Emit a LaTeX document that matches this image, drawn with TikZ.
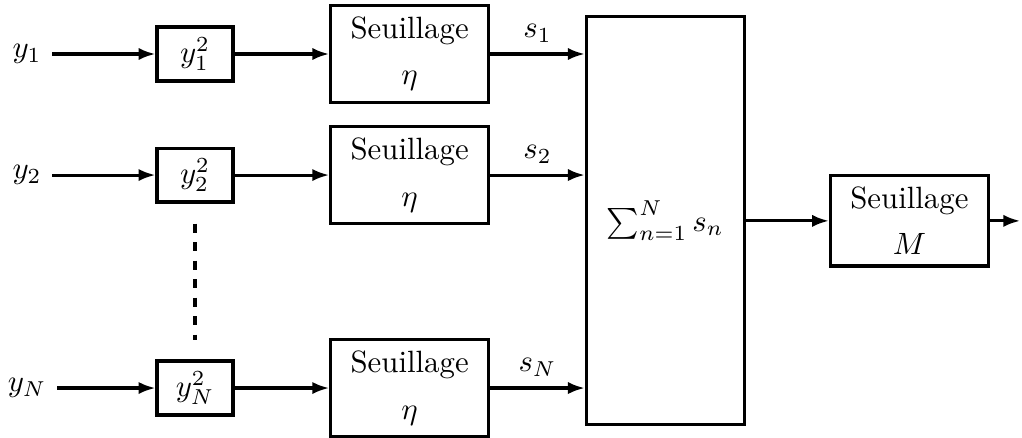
\documentclass[tikz,border=0pt]{standalone}
\usepackage{amsmath,amssymb}
\usepackage{tikz}
\usetikzlibrary{
    arrows.meta,
    calc,
    positioning
}
\tikzstyle{arrow}=[line width=1pt,-{Latex[length=5.5pt,width=4pt]}]

\begin{document}
\begin{tikzpicture}[
    sqbox/.style={
        rectangle,
        draw,
        line width=1pt,
        minimum width=0.867cm,
        minimum height=0.616cm,
        inner sep=1pt,
        align=center
    },
    thrbox/.style={
        rectangle,
        draw,
        line width=1pt,
        minimum width=1.80cm,
        minimum height=1.107cm,
        inner sep=1pt,
        align=center
    }
]
\useasboundingbox (0,0) rectangle (11.66,-4.99);

% entrees
\node (in1) at (0.308,-0.616) {$y_1$};
\node (in2) at (0.308,-1.997) {$y_2$};
\node (inN) at (0.308,-4.427) {$y_N$};

\node[sqbox] (sq1) at (2.225,-0.616) {$y_1^2$};
\node[sqbox] (sq2) at (2.225,-1.997) {$y_2^2$};
\node[sqbox] (sqN) at (2.225,-4.427) {$y_N^2$};

\node[thrbox,right=1.08cm of sq1] (thr1) {Seuillage\\[3pt]$\eta$};
\node[thrbox,right=1.08cm of sq2] (thr2) {Seuillage\\[3pt]$\eta$};
\node[thrbox,right=1.08cm of sqN] (thrN) {Seuillage\\[3pt]$\eta$};

% somme et seuillage final
\node[thrbox,minimum height=4.655cm] (sum) at (7.59,-2.52) {$\sum_{n=1}^N s_n$};
\node[thrbox,minimum height=1.03cm,right=0.95cm of sum] (thrM) {Seuillage\\[3pt]$M$};
\coordinate (out) at (11.64,-2.52);

\draw[arrow] (in1) -- (sq1);
\draw[arrow] (in2) -- (sq2);
\draw[arrow] (inN) -- (sqN);
\draw[arrow] (sq1) -- (thr1);
\draw[arrow] (sq2) -- (thr2);
\draw[arrow] (sqN) -- (thrN);
\draw[line width=1pt,dashed,shorten <=0.23cm,shorten >=0.22cm] (sq2) -- (sqN);

\draw[arrow] (thr1.east) -- node[above]{$s_1$} (thr1.east -| sum.west);
\draw[arrow] (thr2.east) -- node[above]{$s_2$} (thr2.east -| sum.west);
\draw[arrow] (thrN.east) -- node[above]{$s_N$} (thrN.east -| sum.west);
\draw[arrow] (sum) -- (thrM);
\draw[arrow] (thrM) -- (out);
\end{tikzpicture}
\end{document}
